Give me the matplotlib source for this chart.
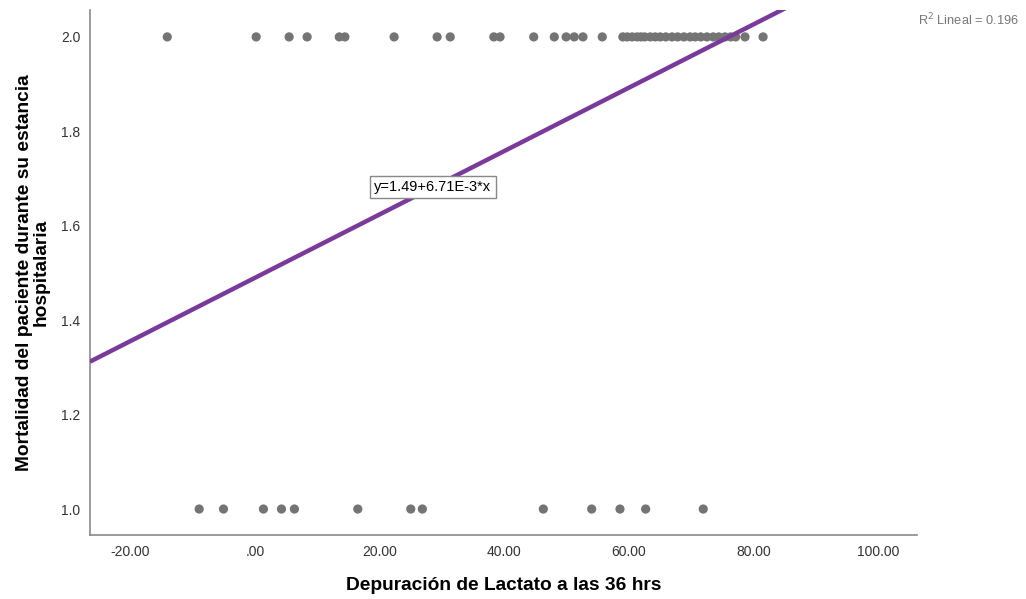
import matplotlib
matplotlib.use("Agg")
import matplotlib.pyplot as plt
import numpy as np

plt.rcParams['font.family'] = ['Liberation Sans', 'DejaVu Sans']

# Data
x_alive = [-14.1, 0.16, 5.45, 8.34, 13.5, 14.4, 22.3, 29.2, 31.3, 38.3, 39.3,
           44.7, 48.0, 49.9, 51.2, 52.6, 55.7, 59.0, 59.7, 60.5, 61.3, 61.9,
           62.5, 63.4, 64.2, 65.0, 65.9, 66.9, 67.8, 68.8, 69.8, 70.6, 71.5,
           72.5, 73.5, 74.4, 75.4, 76.3, 77.1, 78.6, 81.5]
y_alive = [2.0] * len(x_alive)
x_dead = [-8.98, -5.08, 1.33, 4.22, 6.30, 16.47, 24.97, 26.83, 46.24, 54.0,
          58.54, 62.66, 71.9]
y_dead = [1.0] * len(x_dead)

intercept = 1.49
slope = 6.71e-3
r2 = 0.196

x_ticks = [-20, 0, 20, 40, 60, 80, 100]
x_ticklabels = ['-20.00', '.00', '20.00', '40.00', '60.00', '80.00', '100.00']
y_ticks = [1.0, 1.2, 1.4, 1.6, 1.8, 2.0]
y_ticklabels = ['1.0', '1.2', '1.4', '1.6', '1.8', '2.0']

fig = plt.figure(figsize=(10.26, 5.99), dpi=100)
ax = fig.add_axes([90/1026, 64/599, (917-90)/1026, (535-10)/599])

xmin, xmax = -26.5, 106.2
ymin, ymax = 0.945, 2.057
ax.set_xlim(xmin, xmax)
ax.set_ylim(ymin, ymax)

ax.scatter(x_alive, y_alive, s=44, color='#747474', edgecolors='none', zorder=3)
ax.scatter(x_dead, y_dead, s=44, color='#747474', edgecolors='none', zorder=3)

xl = np.array([xmin, xmax])
ax.plot(xl, intercept + slope * xl, color='#7a3a9c', lw=3.2, zorder=4,
        solid_capstyle='butt')

ax.text(28.5, 1.682, 'y=1.49+6.71E-3*x', fontsize=10.5, ha='center', va='center',
        bbox=dict(boxstyle='square,pad=0.3', fc='white', ec='#888888', lw=1),
        zorder=5)

for s in ['top', 'right']:
    ax.spines[s].set_visible(False)
for s in ['left', 'bottom']:
    ax.spines[s].set_color('#8a8a8a')
    ax.spines[s].set_linewidth(1.2)

ax.set_xticks(x_ticks)
ax.set_xticklabels(x_ticklabels)
ax.set_yticks(y_ticks)
ax.set_yticklabels(y_ticklabels)
ax.tick_params(axis='both', length=0, labelsize=10, colors='#333333')
ax.tick_params(axis='x', pad=7)
ax.tick_params(axis='y', pad=7)

ax.set_xlabel('Depuración de Lactato a las 36 hrs', fontsize=13.8, fontweight='bold',
              labelpad=13)
ax.set_ylabel('Mortalidad del paciente durante su estancia\nhospitalaria', fontsize=13.8,
              fontweight='bold', labelpad=8, linespacing=1.0)

fig.text(1019/1026, 1 - 20/599, 'R$^2$ Lineal = 0.196', fontsize=9.2, color='#777777',
         ha='right', va='center')

fig.savefig('out.png', dpi=100)
